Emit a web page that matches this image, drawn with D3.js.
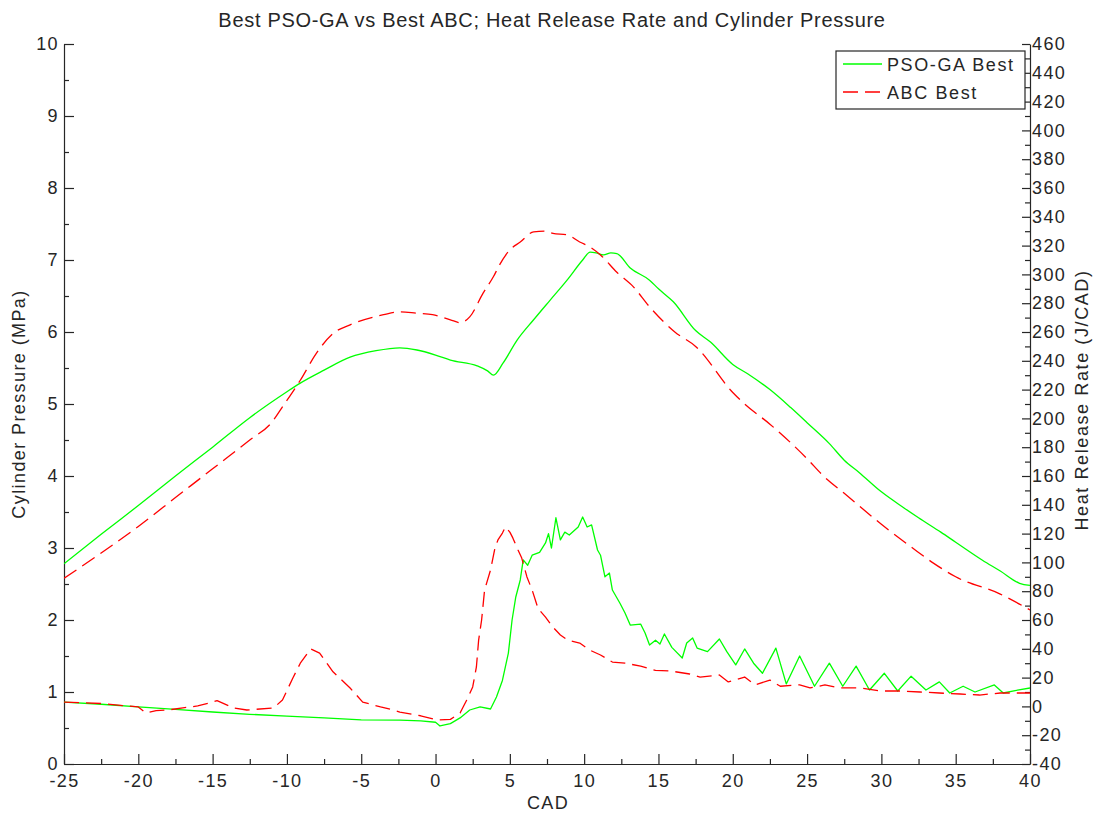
<!DOCTYPE html>
<html><head><meta charset="utf-8">
<script src="https://cdn.jsdelivr.net/npm/d3@7"></script>
<style>
html,body{margin:0;padding:0;background:#fff;}
text{font-family:"Liberation Sans",Arial,sans-serif;fill:#262626;}
</style></head>
<body>
<svg id="chart" width="1095" height="815"></svg>
<script>
// ---------- data ----------
const title = "Best PSO-GA vs Best ABC; Heat Release Rate and Cylinder Pressure";
const xLabel = "CAD";
const yLeftLabel = "Cylinder Pressure (MPa)";
const yRightLabel = "Heat Release Rate (J/CAD)";
const seriesNames = ["PSO-GA Best", "ABC Best"];

const xTicks = [-25,-20,-15,-10,-5,0,5,10,15,20,25,30,35,40];
const yLeftTicks = [0,1,2,3,4,5,6,7,8,9,10];
const yRightTicks = d3.range(-40, 461, 20);

// PSO-GA cylinder pressure (MPa)
const psoPCad = [-25,-22.5,-20,-17.5,-15,-12.5,-10,-9.1,-7.5,-5.75,-4,-2.4,-1.25,0,1,2.8,3.5,3.9,4.55,5.5,6.6,7.7,8.85,9.9,10.4,10.8,11.3,11.8,12.2,13.1,14.4,15,16,17.5,18.5,20,21,22.5,23.9,25,26.5,27.5,28.5,30,31.5,32.5,34,35,36.8,38,39.3,40];
const psoP    = [2.78,3.19,3.59,4.0,4.4,4.81,5.17,5.29,5.47,5.65,5.74,5.78,5.75,5.68,5.61,5.53,5.46,5.40,5.57,5.89,6.17,6.44,6.72,7.0,7.11,7.1,7.07,7.1,7.09,6.89,6.72,6.6,6.42,6.02,5.86,5.55,5.42,5.2,4.95,4.74,4.45,4.22,4.05,3.78,3.56,3.42,3.22,3.08,2.83,2.68,2.51,2.48];

// ABC cylinder pressure (MPa)
const abcPCad = [-25,-22.5,-20,-17.5,-15,-12.5,-11,-10.3,-9.1,-8,-6.9,-5.75,-3.5,-2.4,-1.25,-0.2,1,1.65,2.3,3.2,3.9,4.3,5,5.7,6.6,7.4,7.9,8.85,9.7,10.4,11.1,12.2,13.3,14.4,16.1,17.5,20,20.8,22.5,25,26.1,27.5,30,32.1,33.5,35,38,40];
const abcP    = [2.58,2.93,3.3,3.7,4.1,4.5,4.75,4.96,5.33,5.71,5.98,6.1,6.24,6.28,6.26,6.24,6.17,6.13,6.21,6.54,6.77,6.93,7.14,7.25,7.39,7.40,7.37,7.35,7.25,7.18,7.07,6.83,6.63,6.35,6.0,5.8,5.16,5.0,4.72,4.24,4.0,3.76,3.33,3.0,2.79,2.6,2.36,2.14];

// PSO-GA heat release rate (J/CAD)
const psoHCad = [-25,-22.5,-20,-17.5,-15,-12.5,-10,-7.5,-5,-2.4,-1,0,0.3,1,1.65,2.3,3,3.7,4.1,4.5,4.9,5.15,5.4,5.7,5.9,6.2,6.5,7,7.4,7.6,7.8,8.1,8.4,8.7,9,9.6,9.9,10.2,10.5,10.9,11.1,11.4,11.7,11.9,12.4,12.75,13.1,13.8,14.1,14.4,14.8,15.1,15.4,15.9,16.6,16.9,17.3,17.6,18.3,19.1,19.6,20.2,20.8,21.4,22,22.9,23.6,24.5,25.5,26.5,27.4,28.3,29.2,30.2,31.1,32,33,33.9,34.6,35.5,36.3,37.6,38.2,39,40];
const psoH    = [3,1.5,-0.4,-2,-3.9,-5.5,-6.7,-8,-9.4,-9.5,-10,-11,-13.6,-12,-8,-2.5,-0.4,-1.8,6.5,18,37,60,76,87.8,101.7,98,105,107,113.5,120,110,131,115.6,121,119,124.6,131.5,124.6,126,108.6,105,90,92.6,80.8,71.8,64.9,56.5,57.2,51,42.6,46,43.3,50.3,41,33.6,44,47.5,40.5,38,46.8,38,28.8,39.9,30,23,40.5,15.6,35,14,30,14,28,11.4,23,10.7,21,11.4,17,9.3,14,10,14.9,9.3,11,12.8];

// ABC heat release rate (J/CAD)
const abcHCad = [-25,-22.5,-20,-19.5,-18.8,-18,-17,-16,-15,-14.7,-13.6,-12.7,-10.9,-10.3,-9.6,-9.1,-8.4,-7.8,-6.9,-5.75,-4.9,-3.7,-2.85,-2.4,-1,0.1,1,1.65,2.1,2.5,2.75,2.9,3.1,3.3,3.7,4,4.2,4.5,4.7,5,5.2,5.55,5.8,6.15,6.5,6.9,7.4,7.9,8.4,8.9,9.7,10.4,11.1,11.9,12.75,13.8,14.8,15.8,17.1,17.8,19.1,19.7,20.8,21.5,22.5,23.2,24.5,25.2,26.2,27.2,28.6,29.9,31.3,32.6,33.9,35.3,36.6,38,40];
const abcH    = [3,2,-0.4,-4.6,-3,-2.5,-1,0.3,3,4,-1.1,-2.5,-1.1,4.4,19.7,30,39.9,37,24,12.8,3,-0.4,-2.5,-3.9,-6.5,-9.4,-9,-4.6,4.4,13.5,27.4,46,60,80.8,94.7,110,115.6,120.4,124.6,121,117,108.6,103,89.9,80.8,68,62,55,49.6,46,44,39,35.7,30.8,30,28,25,24.6,22.5,20.4,21.8,17,20.4,14.9,18.3,14,15,12.8,14.9,12.8,12.8,10.7,10.7,10,9.3,8.6,7.9,9.3,9.3];

// ---------- layout ----------
const svg = d3.select("#chart");
const L = 64, R = 1030, T = 44, B = 764;
const axisColor = "#262626";
const green = "#00ff00", red = "#ff0000";
const fmt = d => String(d);   // plain hyphen-minus as in the reference

const x = d3.scaleLinear().domain([-25, 40]).range([L, R]);
const yL = d3.scaleLinear().domain([0, 10]).range([B, T]);
const yR = d3.scaleLinear().domain([-40, 460]).range([B, T]);

function styleAxis(g, fs) {
  g.select(".domain").attr("stroke", axisColor).attr("stroke-width", 1.2);
  g.selectAll(".tick line").attr("stroke", axisColor).attr("stroke-width", 1.2);
  g.selectAll(".tick text").attr("fill", axisColor)
    .style("font-family", '"Liberation Sans", Arial, sans-serif')
    .style("font-size", fs + "px").style("letter-spacing", "1.4px");
}

// bottom axis
const gx = svg.append("g").attr("transform", `translate(0,${B})`)
  .call(d3.axisBottom(x).tickValues(xTicks).tickSizeInner(-10).tickSizeOuter(0).tickPadding(8).tickFormat(fmt));
styleAxis(gx, 18);
gx.selectAll(".tick text").attr("dy", "0.85em");
svg.append("g").attr("transform", `translate(0,${B})`)
  .call(d3.axisBottom(x).tickValues(d3.range(-22.5, 40, 5)).tickSizeInner(-5).tickSizeOuter(0).tickFormat(""))
  .call(g => g.select(".domain").remove())
  .selectAll("line").attr("stroke", axisColor).attr("stroke-width", 1.2);

// left axis
const gl = svg.append("g").attr("transform", `translate(${L},0)`)
  .call(d3.axisLeft(yL).tickValues(yLeftTicks).tickSizeInner(-10).tickSizeOuter(0).tickPadding(5).tickFormat(fmt));
styleAxis(gl, 18);
svg.append("g").attr("transform", `translate(${L},0)`)
  .call(d3.axisLeft(yL).tickValues(d3.range(0.5, 10, 1)).tickSizeInner(-5).tickSizeOuter(0).tickFormat(""))
  .call(g => g.select(".domain").remove())
  .selectAll("line").attr("stroke", axisColor).attr("stroke-width", 1.2);

// right axis
const gr = svg.append("g").attr("transform", `translate(${R},0)`)
  .call(d3.axisRight(yR).tickValues(yRightTicks).tickSizeInner(-8).tickSizeOuter(0).tickPadding(2).tickFormat(fmt));
styleAxis(gr, 18);
svg.append("g").attr("transform", `translate(${R},0)`)
  .call(d3.axisRight(yR).tickValues(d3.range(-30, 460, 20)).tickSizeInner(-5).tickSizeOuter(0).tickFormat(""))
  .call(g => g.select(".domain").remove())
  .selectAll("line").attr("stroke", axisColor).attr("stroke-width", 1.2);

// lines
svg.append("clipPath").attr("id", "clip").append("rect")
  .attr("x", L).attr("y", T).attr("width", R - L).attr("height", B - T);
const plot = svg.append("g").attr("clip-path", "url(#clip)");

function drawLine(cads, vals, yScale, color, dashed, curve) {
  const pts = cads.map((c, i) => [c, vals[i]]);
  const line = d3.line().x(d => x(d[0])).y(d => yScale(d[1])).curve(curve);
  const p = plot.append("path").datum(pts).attr("d", line)
    .attr("fill", "none").attr("stroke", color).attr("stroke-width", 1.3)
    .attr("stroke-linejoin", "round");
  if (dashed) p.attr("stroke-dasharray", "15,7");
}
drawLine(psoPCad, psoP, yL, green, false, d3.curveMonotoneX);
drawLine(abcPCad, abcP, yL, red, true, d3.curveMonotoneX);
drawLine(psoHCad, psoH, yR, green, false, d3.curveLinear);
drawLine(abcHCad, abcH, yR, red, true, d3.curveLinear);

// title & labels
svg.append("text").attr("x", 552).attr("y", 27).attr("text-anchor", "middle")
  .style("font-size", "20px").style("letter-spacing", "0.7px").text(title);
svg.append("text").attr("x", 548).attr("y", 809).attr("text-anchor", "middle")
  .style("font-size", "18px").style("letter-spacing", "1.4px").text(xLabel);
svg.append("text").attr("transform", `translate(25,${(T + B) / 2}) rotate(-90)`).attr("text-anchor", "middle")
  .style("font-size", "18px").style("letter-spacing", "1.4px").text(yLeftLabel);
svg.append("text").attr("transform", `translate(1088,${(T + B) / 2 - 4}) rotate(-90)`).attr("text-anchor", "middle")
  .style("font-size", "18px").style("letter-spacing", "1.6px").text(yRightLabel);

// legend
const lg = svg.append("g");
lg.append("rect").attr("x", 836).attr("y", 51).attr("width", 189).attr("height", 58)
  .attr("fill", "#fff").attr("stroke", axisColor).attr("stroke-width", 1.2);
[[green, false, 64], [red, true, 92]].forEach((s, i) => {
  const ln = lg.append("line").attr("x1", 843).attr("x2", 882).attr("y1", s[2]).attr("y2", s[2])
    .attr("stroke", s[0]).attr("stroke-width", 1.3);
  if (s[1]) ln.attr("stroke-dasharray", "15,7");
  lg.append("text").attr("x", 887).attr("y", s[2] + 6.5)
    .style("font-size", "18px").style("letter-spacing", "1.6px").text(seriesNames[i]);
});
</script>
</body></html>
